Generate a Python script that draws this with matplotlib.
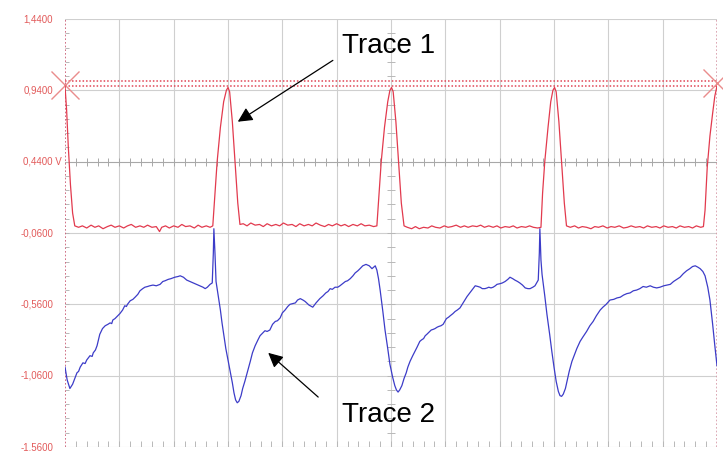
import numpy as np
import matplotlib
matplotlib.use('Agg')
import matplotlib.pyplot as plt

plt.rcParams['font.family'] = ['Liberation Sans', 'DejaVu Sans']

##data (time in divisions, volts)
y_ticks = [1.44, 0.94, 0.44, -0.06, -0.56, -1.06, -1.56]
y_labels = ['1,4400', '0,9400', '0,4400 V', '-0,0600', '-0,5600', '-1,0600', '-1,5600']
cursor_levels = [1.005, 0.970]

trace1 = [(0.00, 0.97), (0.03, 0.80), (0.06, 0.55), (0.10, 0.28), (0.14, 0.08), (0.18, -0.01),
          (0.25, -0.02), (0.32, -0.01), (0.40, -0.025), (0.48, -0.005), (0.55, -0.02), (0.62, -0.01),
          (0.70, -0.03), (0.78, -0.015), (0.85, -0.005), (0.92, -0.02), (1.00, -0.01), (1.08, -0.025),
          (1.15, -0.01), (1.22, 0.00), (1.30, -0.02), (1.38, -0.01), (1.45, -0.02), (1.52, -0.005),
          (1.60, -0.02), (1.68, -0.015), (1.74, -0.05), (1.78, -0.02), (1.85, -0.01), (1.92, -0.025),
          (2.00, -0.01), (2.08, -0.02), (2.15, 0.00), (2.22, -0.015), (2.30, -0.01), (2.38, -0.025),
          (2.45, -0.005), (2.52, -0.02), (2.60, -0.01), (2.67, -0.02), (2.72, -0.01),
          (2.76, 0.22), (2.80, 0.44), (2.86, 0.68), (2.92, 0.86), (2.97, 0.94), (3.00, 0.96),
          (3.03, 0.93), (3.08, 0.72), (3.13, 0.44), (3.18, 0.15), (3.22, 0.00),
          (3.28, 0.005), (3.35, -0.01), (3.42, 0.01), (3.50, -0.005), (3.58, 0.00), (3.65, -0.015),
          (3.72, 0.005), (3.80, -0.01), (3.88, 0.00), (3.95, -0.01), (4.02, 0.01), (4.10, -0.005),
          (4.18, 0.00), (4.25, -0.015), (4.32, 0.005), (4.40, -0.01), (4.48, 0.00), (4.55, -0.01),
          (4.62, 0.01), (4.70, -0.005), (4.78, -0.015), (4.85, 0.00), (4.92, -0.01), (5.00, 0.005),
          (5.08, -0.01), (5.15, 0.00), (5.22, -0.015), (5.30, 0.00), (5.38, -0.01), (5.45, 0.005),
          (5.52, -0.01), (5.60, -0.005), (5.68, -0.015), (5.74, -0.01),
          (5.78, 0.22), (5.82, 0.44), (5.88, 0.68), (5.94, 0.86), (5.98, 0.94), (6.01, 0.96),
          (6.04, 0.93), (6.09, 0.72), (6.14, 0.44), (6.19, 0.15), (6.24, -0.01),
          (6.30, -0.02), (6.38, -0.03), (6.45, -0.015), (6.52, -0.03), (6.60, -0.02), (6.68, -0.025),
          (6.75, -0.01), (6.82, -0.02), (6.90, -0.025), (6.98, -0.01), (7.05, -0.02), (7.12, -0.015),
          (7.20, -0.005), (7.28, -0.02), (7.35, -0.01), (7.42, -0.02), (7.50, -0.01), (7.58, -0.015),
          (7.65, -0.005), (7.72, -0.02), (7.80, -0.01), (7.88, -0.02), (7.95, -0.01), (8.02, -0.025),
          (8.10, -0.015), (8.18, -0.02), (8.25, -0.01), (8.32, -0.025), (8.40, -0.015), (8.48, -0.02),
          (8.55, -0.01), (8.62, -0.02), (8.70, -0.025), (8.76, -0.02),
          (8.79, 0.22), (8.83, 0.44), (8.89, 0.68), (8.94, 0.86), (8.98, 0.94), (9.01, 0.96),
          (9.04, 0.93), (9.09, 0.72), (9.14, 0.44), (9.19, 0.15), (9.23, -0.01),
          (9.30, -0.02), (9.38, -0.01), (9.45, -0.025), (9.52, -0.015), (9.60, -0.02), (9.68, -0.03),
          (9.75, -0.015), (9.82, -0.02), (9.90, -0.01), (9.98, -0.025), (10.05, -0.015), (10.12, -0.02),
          (10.20, -0.01), (10.28, -0.025), (10.35, -0.02), (10.42, -0.01), (10.50, -0.02), (10.58, -0.015),
          (10.65, -0.025), (10.72, -0.01), (10.80, -0.02), (10.88, -0.015), (10.95, -0.025), (11.02, -0.01),
          (11.10, -0.02), (11.18, -0.015), (11.25, -0.025), (11.32, -0.01), (11.40, -0.02), (11.48, -0.015),
          (11.55, -0.025), (11.62, -0.01), (11.70, -0.02), (11.75, -0.015),
          (11.78, 0.10), (11.82, 0.40), (11.87, 0.62), (11.92, 0.78), (11.96, 0.90), (12.00, 0.97)]

trace2 = [(0.00, -1.00), (0.04, -1.09), (0.09, -1.15), (0.14, -1.12), (0.18, -1.08), (0.22, -1.04),
          (0.25, -1.03), (0.28, -1.00), (0.33, -0.97), (0.37, -0.975), (0.40, -0.95), (0.46, -0.92),
          (0.50, -0.925), (0.52, -0.90), (0.56, -0.88), (0.59, -0.85), (0.64, -0.77), (0.69, -0.73),
          (0.74, -0.71), (0.79, -0.70), (0.83, -0.69), (0.86, -0.695), (0.88, -0.67), (0.92, -0.66),
          (0.97, -0.64), (1.01, -0.625), (1.06, -0.60), (1.10, -0.57), (1.13, -0.575), (1.15, -0.56),
          (1.20, -0.535), (1.25, -0.525), (1.29, -0.51), (1.34, -0.49), (1.38, -0.465), (1.43, -0.45),
          (1.47, -0.44), (1.52, -0.435), (1.56, -0.43), (1.62, -0.425), (1.68, -0.43), (1.75, -0.42),
          (1.80, -0.40), (1.84, -0.395), (1.90, -0.385), (1.95, -0.38), (2.02, -0.37), (2.08, -0.365),
          (2.12, -0.36), (2.18, -0.37), (2.24, -0.39), (2.30, -0.40), (2.36, -0.41), (2.42, -0.42),
          (2.48, -0.43), (2.54, -0.44), (2.58, -0.45), (2.62, -0.44), (2.67, -0.42), (2.71, -0.41),
          (2.73, -0.20), (2.74, -0.03), (2.76, -0.20), (2.78, -0.40), (2.82, -0.50), (2.86, -0.60),
          (2.89, -0.69), (2.93, -0.79), (2.96, -0.87), (3.00, -0.95), (3.04, -1.03), (3.08, -1.11),
          (3.11, -1.18), (3.14, -1.23), (3.17, -1.25), (3.20, -1.24), (3.24, -1.20), (3.27, -1.15),
          (3.31, -1.10), (3.36, -1.03), (3.41, -0.96), (3.45, -0.90), (3.50, -0.85), (3.55, -0.81),
          (3.59, -0.78), (3.64, -0.76), (3.68, -0.745), (3.72, -0.75), (3.77, -0.74), (3.82, -0.70),
          (3.87, -0.68), (3.91, -0.675), (3.96, -0.655), (4.00, -0.62), (4.05, -0.60), (4.10, -0.575),
          (4.14, -0.56), (4.19, -0.555), (4.24, -0.55), (4.28, -0.53), (4.33, -0.52), (4.38, -0.53),
          (4.42, -0.54), (4.49, -0.565), (4.56, -0.58), (4.62, -0.55), (4.69, -0.52), (4.75, -0.50),
          (4.80, -0.48), (4.84, -0.47), (4.88, -0.45), (4.92, -0.455), (4.97, -0.44), (5.02, -0.44),
          (5.06, -0.43), (5.11, -0.415), (5.16, -0.40), (5.20, -0.395), (5.25, -0.38), (5.30, -0.36),
          (5.34, -0.34), (5.39, -0.325), (5.43, -0.31), (5.48, -0.29), (5.54, -0.28), (5.60, -0.29),
          (5.65, -0.31), (5.71, -0.29), (5.74, -0.32), (5.77, -0.38), (5.80, -0.46), (5.85, -0.61),
          (5.89, -0.74), (5.94, -0.87), (5.98, -0.98), (6.03, -1.07), (6.07, -1.13), (6.10, -1.16),
          (6.13, -1.175), (6.16, -1.16), (6.20, -1.13), (6.24, -1.08), (6.28, -1.04), (6.31, -1.00),
          (6.35, -0.96), (6.40, -0.92), (6.44, -0.89), (6.48, -0.86), (6.53, -0.82), (6.56, -0.81),
          (6.60, -0.80), (6.63, -0.78), (6.66, -0.77), (6.70, -0.755), (6.74, -0.74), (6.78, -0.735),
          (6.81, -0.73), (6.85, -0.72), (6.88, -0.715), (6.92, -0.71), (6.96, -0.70), (6.99, -0.68),
          (7.02, -0.66), (7.06, -0.65), (7.09, -0.64), (7.14, -0.625), (7.18, -0.61), (7.22, -0.60),
          (7.27, -0.585), (7.31, -0.56), (7.36, -0.53), (7.40, -0.505), (7.45, -0.48), (7.50, -0.455),
          (7.55, -0.43), (7.60, -0.435), (7.64, -0.44), (7.68, -0.45), (7.73, -0.45), (7.77, -0.445),
          (7.80, -0.44), (7.84, -0.445), (7.88, -0.44), (7.92, -0.43), (7.95, -0.42), (8.01, -0.415),
          (8.05, -0.41), (8.10, -0.40), (8.15, -0.385), (8.19, -0.37), (8.24, -0.38), (8.28, -0.39),
          (8.33, -0.40), (8.37, -0.41), (8.42, -0.425), (8.47, -0.445), (8.52, -0.45), (8.56, -0.45),
          (8.61, -0.44), (8.65, -0.43), (8.71, -0.39), (8.73, -0.20), (8.74, -0.03), (8.76, -0.25),
          (8.78, -0.35), (8.83, -0.50), (8.87, -0.63), (8.92, -0.77), (8.96, -0.89), (9.00, -1.00),
          (9.04, -1.10), (9.08, -1.17), (9.11, -1.20), (9.14, -1.205), (9.17, -1.19), (9.21, -1.15),
          (9.24, -1.10), (9.28, -1.03), (9.33, -0.96), (9.37, -0.92), (9.42, -0.87), (9.48, -0.82),
          (9.53, -0.79), (9.60, -0.75), (9.66, -0.71), (9.72, -0.68), (9.78, -0.64), (9.85, -0.60),
          (9.90, -0.58), (9.96, -0.56), (10.03, -0.53), (10.10, -0.525), (10.16, -0.515), (10.22, -0.51),
          (10.28, -0.495), (10.34, -0.485), (10.40, -0.48), (10.46, -0.465), (10.52, -0.46), (10.58, -0.45),
          (10.64, -0.435), (10.70, -0.44), (10.77, -0.43), (10.83, -0.44), (10.89, -0.445), (10.95, -0.44),
          (11.02, -0.43), (11.08, -0.425), (11.14, -0.42), (11.20, -0.40), (11.26, -0.385), (11.32, -0.37),
          (11.38, -0.345), (11.44, -0.325), (11.50, -0.31), (11.55, -0.295), (11.60, -0.29), (11.65, -0.30),
          (11.69, -0.31), (11.74, -0.33), (11.78, -0.36), (11.83, -0.44), (11.87, -0.53), (11.92, -0.70),
          (11.96, -0.85), (12.00, -0.99)]

t1 = np.array([p[0] for p in trace1])
v1 = np.array([p[1] for p in trace1])
t2 = np.array([p[0] for p in trace2])
v2 = np.array([p[1] for p in trace2])

fig = plt.figure(figsize=(7.23, 4.51), dpi=100)
ax = fig.add_axes([65/723, 4/451, 652/723, 428/451])
ax.set_xlim(0, 12)
ax.set_ylim(-1.56, 1.44)
ax.axis('off')

##graticule
grid_c = '#cfcfcf'
for k in range(1, 12):
    ax.axvline(k, color=grid_c, lw=0.8, zorder=1)
for yv in y_ticks:
    if yv == 0.44:
        ax.axhline(yv, color='#a8a8a8', lw=0.8, zorder=1)
    else:
        ax.axhline(yv, color=grid_c, lw=0.8, zorder=1)
# minor ticks on the centre cross, bottom and left edges
xm = np.arange(0.2, 12, 0.2)
ax.vlines(xm, 0.44 - 0.028, 0.44 + 0.028, color='#a8a8a8', lw=0.7, zorder=1)
ax.vlines(xm, -1.56, -1.56 + 0.042, color='#b8b8b8', lw=0.7, zorder=1)
ym = np.arange(-1.46, 1.44, 0.1)
ax.hlines(ym, 6 - 0.07, 6 + 0.07, color='#b8b8b8', lw=0.7, zorder=1)
ax.hlines(ym, 0, 0.08, color='#b8b8b8', lw=0.7, zorder=1)

# left / right edges (dotted)
ax.axvline(0, color='#c85a72', lw=1.2, ls=(0, (1, 1.2)), zorder=2)
ax.axvline(12, color='#d79aa8', lw=1.2, ls=(0, (1, 1.2)), zorder=2)

##cursors
for lev in cursor_levels:
    ax.axhline(lev, color='#e04555', lw=1.1, ls=(0, (1, 1.3)), zorder=2)
ax.plot([0, 12], [0.978, 0.988], ls='none', marker='x', ms=20, mew=1.0,
        color='#ea8c8c', clip_on=False, zorder=3)

##traces
ax.plot(t1, v1, color='#e23a4e', lw=0.9, zorder=4)
ax.plot(t2, v2, color='#3c3cc8', lw=0.9, zorder=4)

##y labels
for yv, lab in zip(y_ticks, y_labels):
    off = -2.2 if 'V' in lab else -8.6
    ax.annotate(lab, xy=(0, yv), xycoords=('axes fraction', 'data'),
                xytext=(off, 0), textcoords='offset points',
                ha='right', va='center', fontsize=7, color='#e25a5a',
                annotation_clip=False)

##annotations
ax.text(5.10, 1.20, 'Trace 1', fontsize=20, ha='left', va='baseline')
ax.text(5.10, -1.385, 'Trace 2', fontsize=20, ha='left', va='baseline')
ax.annotate('', xy=(3.18, 0.72), xytext=(4.93, 1.15),
            arrowprops=dict(arrowstyle='-|>', mutation_scale=22, lw=0.9, color='black',
                            shrinkA=0, shrinkB=0))
ax.annotate('', xy=(3.74, -0.90), xytext=(4.66, -1.21),
            arrowprops=dict(arrowstyle='-|>', mutation_scale=22, lw=0.9, color='black',
                            shrinkA=0, shrinkB=0))

plt.savefig('out.png', dpi=100)
